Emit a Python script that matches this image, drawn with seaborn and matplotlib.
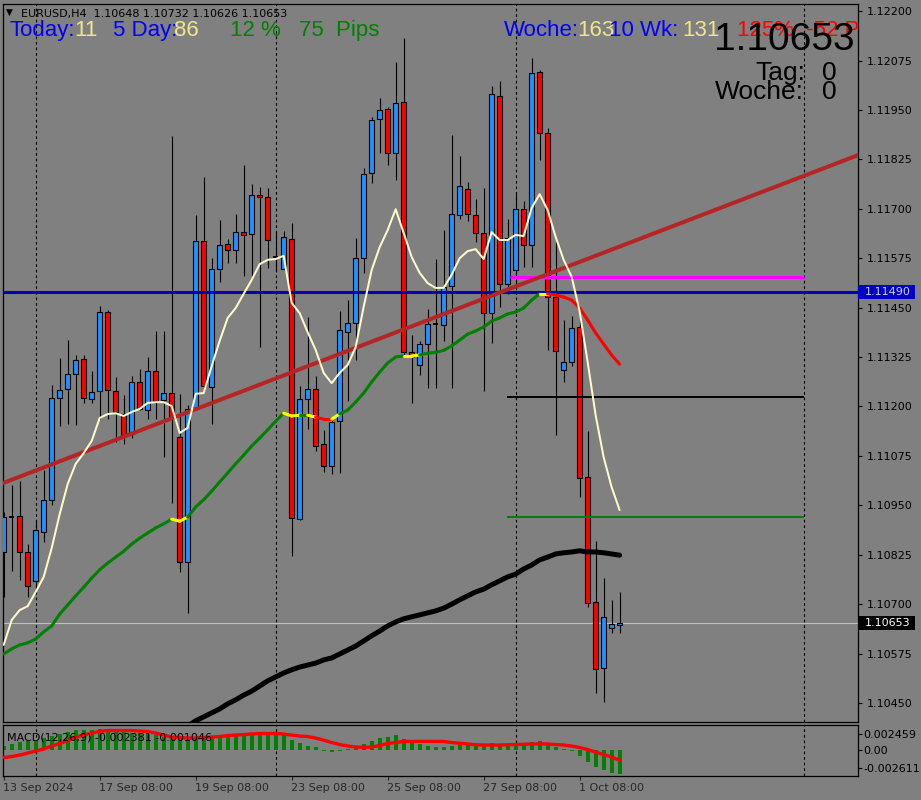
import numpy as np
import matplotlib
matplotlib.use("Agg")
import matplotlib.pyplot as plt
import matplotlib.transforms as mtransforms
from matplotlib.patches import Rectangle
from matplotlib import font_manager
import seaborn as sns

# ===== Data =====
date_labels = ["13 Sep 2024", "17 Sep 08:00", "19 Sep 08:00", "23 Sep 08:00",
               "25 Sep 08:00", "27 Sep 08:00", "1 Oct 08:00"]
date_label_bars = [0, 12, 24, 36, 48, 60, 72]
separator_bars = [4, 34, 64, 100]

opens = [1.10832, 1.10920, 1.10923, 1.10832, 1.10759, 1.10883, 1.10964, 1.11221, 1.11244, 1.11282,
         1.11320, 1.11219, 1.11239, 1.11439, 1.11239, 1.11181, 1.11130, 1.11262, 1.11191, 1.11290,
         1.11217, 1.11234, 1.11123, 1.10807, 1.11196, 1.11619, 1.11249, 1.11548, 1.11611, 1.11596,
         1.11641, 1.11636, 1.11735, 1.11730, 1.11578, 1.11548, 1.11624, 1.10915, 1.11219, 1.11244,
         1.11105, 1.11050, 1.11163, 1.11388, 1.11411, 1.11575, 1.11791, 1.11927, 1.11952, 1.11841,
         1.11970, 1.11338, 1.11305, 1.11358, 1.11409, 1.11406, 1.11505, 1.11684, 1.11750, 1.11684,
         1.11639, 1.11436, 1.11985, 1.11510, 1.11545, 1.11699, 1.11608, 1.12046, 1.11892, 1.11477,
         1.11292, 1.11313, 1.11401, 1.11022, 1.10706, 1.10539, 1.10640, 1.10648]
highs = [1.10933, 1.11001, 1.11012, 1.10852, 1.10910, 1.11039, 1.11254, 1.11323, 1.11368, 1.11330,
         1.11330, 1.11290, 1.11454, 1.11444, 1.11275, 1.11228, 1.11277, 1.11295, 1.11325, 1.11391,
         1.11391, 1.11884, 1.11232, 1.11204, 1.11684, 1.11780, 1.11575, 1.11672, 1.11624, 1.11687,
         1.11811, 1.11763, 1.11755, 1.11752, 1.11641, 1.11644, 1.11664, 1.11252, 1.11426, 1.11277,
         1.11141, 1.11171, 1.11441, 1.11469, 1.11626, 1.11803, 1.11932, 1.11980, 1.11957, 1.12071,
         1.12132, 1.11381, 1.11366, 1.11447, 1.11573, 1.11646, 1.11887, 1.11834, 1.11768, 1.11725,
         1.11752, 1.12011, 1.12023, 1.11674, 1.11737, 1.11720, 1.12081, 1.12051, 1.11904, 1.11616,
         1.11419, 1.11428, 1.11428, 1.11138, 1.10860, 1.10766, 1.10711, 1.10732]
lows = [1.10718, 1.10784, 1.10761, 1.10718, 1.10736, 1.10857, 1.10951, 1.11151, 1.11156, 1.11153,
        1.11209, 1.11209, 1.11168, 1.11168, 1.11110, 1.11105, 1.11120, 1.11191, 1.11168, 1.11168,
        1.11072, 1.10956, 1.10781, 1.10678, 1.11191, 1.11239, 1.11156, 1.11515, 1.11563, 1.11563,
        1.11530, 1.11530, 1.11350, 1.11550, 1.11545, 1.11548, 1.10822, 1.10913, 1.11143, 1.11087,
        1.11034, 1.11029, 1.11032, 1.11214, 1.11318, 1.11538, 1.11765, 1.11841, 1.11811, 1.11773,
        1.11328, 1.11209, 1.11280, 1.11247, 1.11247, 1.11366, 1.11247, 1.11674, 1.11669, 1.11616,
        1.11239, 1.11361, 1.11452, 1.11485, 1.11495, 1.11553, 1.11553, 1.11823, 1.11343, 1.11128,
        1.11262, 1.11302, 1.10971, 1.10693, 1.10475, 1.10453, 1.10627, 1.10626]
closes = [1.10920, 1.10920, 1.10832, 1.10746, 1.10888, 1.10964, 1.11221, 1.11242, 1.11282, 1.11318,
          1.11221, 1.11237, 1.11439, 1.11242, 1.11186, 1.11128, 1.11262, 1.11194, 1.11290, 1.11214,
          1.11234, 1.11173, 1.10807, 1.11194, 1.11619, 1.11252, 1.11548, 1.11608, 1.11596, 1.11641,
          1.11634, 1.11735, 1.11730, 1.11621, 1.11578, 1.11629, 1.10918, 1.11219, 1.11244, 1.11100,
          1.11050, 1.11161, 1.11393, 1.11411, 1.11575, 1.11788, 1.11924, 1.11950, 1.11841, 1.11967,
          1.11338, 1.11325, 1.11358, 1.11409, 1.11409, 1.11502, 1.11687, 1.11758, 1.11687, 1.11639,
          1.11436, 1.11990, 1.11510, 1.11626, 1.11699, 1.11608, 1.12043, 1.11892, 1.11477, 1.11340,
          1.11313, 1.11398, 1.11019, 1.10703, 1.10536, 1.10668, 1.10650, 1.10653]

# fast moving average (cream line)
fast_ma = [1.10597, 1.10660, 1.10685, 1.10695, 1.10731, 1.10769, 1.10842, 1.10928, 1.11004, 1.11055,
           1.11082, 1.11113, 1.11171, 1.11181, 1.11183, 1.11176, 1.11186, 1.11194, 1.11209, 1.11211,
           1.11211, 1.11201, 1.11133, 1.11146, 1.11232, 1.11234, 1.11302, 1.11366, 1.11424, 1.11449,
           1.11485, 1.11520, 1.11560, 1.11571, 1.11573, 1.11581, 1.11462, 1.11436, 1.11388, 1.11343,
           1.11285, 1.11259, 1.11285, 1.11305, 1.11350, 1.11452, 1.11545, 1.11603, 1.11646, 1.11699,
           1.11639, 1.11578, 1.11538, 1.11512, 1.11500, 1.11500, 1.11533, 1.11575, 1.11593, 1.11598,
           1.11573, 1.11641, 1.11621, 1.11621, 1.11634, 1.11631, 1.11702, 1.11737, 1.11697, 1.11629,
           1.11571, 1.11528, 1.11441, 1.11313, 1.11178, 1.11072, 1.10996, 1.10938]

# medium moving average (colour changes with slope)
mid_ma = [1.10574, 1.10587, 1.10597, 1.10602, 1.10612, 1.10630, 1.10645, 1.10675, 1.10698, 1.10721,
          1.10743, 1.10766, 1.10787, 1.10804, 1.10819, 1.10834, 1.10852, 1.10867, 1.10880, 1.10893,
          1.10903, 1.10915, 1.10910, 1.10920, 1.10946, 1.10964, 1.10986, 1.11009, 1.11032, 1.11055,
          1.11077, 1.11100, 1.11120, 1.11141, 1.11163, 1.11183, 1.11176, 1.11178, 1.11178, 1.11173,
          1.11168, 1.11168, 1.11181, 1.11191, 1.11211, 1.11234, 1.11262, 1.11287, 1.11310, 1.11325,
          1.11328, 1.11328, 1.11330, 1.11335, 1.11337, 1.11342, 1.11353, 1.11368, 1.11383, 1.11391,
          1.11401, 1.11416, 1.11424, 1.11434, 1.11439, 1.11449, 1.11469, 1.11485, 1.11485, 1.11482,
          1.11477, 1.11469, 1.11449, 1.11419, 1.11386, 1.11358, 1.11330, 1.11307]
# g = rising, y = flat, r = falling (one code per bar, colours the segment to the next bar)
mid_ma_state = ("g" * 21 + "yy" + "g" * 12 + "yy" + "g" + "y" + "rr" + "y"
                + "g" * 8 + "yy" + "g" * 15 + "y" + "r" * 10)

# slow moving average (thick black), first bars lie below the visible range
slow_ma = [np.nan] * 23 + [
    1.10392, 1.10405, 1.10415, 1.10425, 1.10435, 1.10448, 1.10458, 1.10470, 1.10480, 1.10493,
    1.10506, 1.10516, 1.10526, 1.10534, 1.10541, 1.10546, 1.10551, 1.10559, 1.10564, 1.10574,
    1.10584, 1.10594, 1.10607, 1.10620, 1.10632, 1.10645, 1.10655, 1.10663, 1.10668, 1.10673,
    1.10678, 1.10683, 1.10690, 1.10700, 1.10711, 1.10721, 1.10731, 1.10738, 1.10749, 1.10759,
    1.10769, 1.10776, 1.10789, 1.10799, 1.10812, 1.10819, 1.10827, 1.10830, 1.10832, 1.10835,
    1.10832, 1.10832, 1.10830, 1.10827, 1.10824]

macd_main = [0.00037, 0.00057, 0.00072, 0.00086, 0.00101, 0.00121, 0.00141, 0.00156, 0.00181, 0.00196,
             0.00201, 0.00196, 0.00206, 0.00196, 0.00186, 0.00176, 0.00166, 0.00166, 0.00156, 0.00151,
             0.00131, 0.00116, 0.00106, 0.00113, 0.00123, 0.00129, 0.00129, 0.00116, 0.00123, 0.00149,
             0.00156, 0.00156, 0.00163, 0.00173, 0.00173, 0.00156, 0.00096, 0.00064, 0.00040, 0.00030,
             -0.00010, -0.00020, -0.00010, 0.00007, 0.00024, 0.00057, 0.00083, 0.00113, 0.00123, 0.00146,
             0.00106, 0.00074, 0.00057, 0.00037, 0.00027, 0.00027, 0.00040, 0.00050, 0.00050, 0.00044,
             0.00034, 0.00064, 0.00044, 0.00044, 0.00050, 0.00057, 0.00074, 0.00083, 0.00050, 0.00030,
             0.00004, -0.00013, -0.00063, -0.00119, -0.00169, -0.00199, -0.00229, -0.002381]
macd_signal = [-0.00078, -0.00068, -0.00053, -0.00033, -0.00013, 0.00007, 0.00037, 0.00062, 0.00091, 0.00126,
               0.00146, 0.00166, 0.00181, 0.00191, 0.00191, 0.00191, 0.00191, 0.00186, 0.00181, 0.00166,
               0.00146, 0.00126, 0.00121, 0.00116, 0.00116, 0.00121, 0.00126, 0.00131, 0.00141, 0.00146,
               0.00151, 0.00156, 0.00161, 0.00161, 0.00161, 0.00156, 0.00146, 0.00136, 0.00131, 0.00116,
               0.00096, 0.00072, 0.00052, 0.00037, 0.00027, 0.00024, 0.00027, 0.00042, 0.00062, 0.00072,
               0.00082, 0.00083, 0.00083, 0.00083, 0.00083, 0.00082, 0.00072, 0.00064, 0.00057, 0.00050,
               0.00047, 0.00047, 0.00047, 0.00050, 0.00052, 0.00054, 0.00057, 0.00057, 0.00057, 0.00052,
               0.00047, 0.00037, 0.00022, 0.00002, -0.00023, -0.00048, -0.00073, -0.001046]

price_ticks = [1.12200, 1.12075, 1.11950, 1.11825, 1.11700, 1.11575, 1.11450, 1.11325,
               1.11200, 1.11075, 1.10950, 1.10825, 1.10700, 1.10575, 1.10450]
macd_range = [-0.002611, 0.002459]

blue_level = 1.11490
last_price = 1.10653
magenta_level = 1.11527
black_level = 1.11224
green_level = 1.10920
level_bars = [63, 100]
trend_bars = [0, 100]
trend_prices = [1.11007, 1.11783]

# ===== Style =====
sns.set_style("ticks", {"axes.facecolor": "#808080", "figure.facecolor": "#808080",
                        "axes.edgecolor": "black"})
plt.rcParams['font.family'] = ['DejaVu Sans']

names = set(font_manager.get_font_names())
narrow = 'Liberation Sans Narrow' in names
big_family = 'Liberation Sans Narrow' if narrow else 'Liberation Sans'
big_size = 33.5 if narrow else 28
mid_size = 23 if narrow else 19

fig = plt.figure(figsize=(9.21, 8.0), dpi=100)
ax = fig.add_axes([2.5 / 921, 78 / 800, 855.5 / 921, 718 / 800])
ax2 = fig.add_axes([2.5 / 921, 24 / 800, 855.5 / 921, 51 / 800])
px = mtransforms.Affine2D().scale(1, -1).translate(0, 800)

x = np.arange(len(opens))
o, h, l, c = map(np.array, (opens, highs, lows, closes))

# separators
for a in (ax, ax2):
    for b in separator_bars:
        a.axvline(b, color='black', linestyle=(0, (2.5, 2.5)), linewidth=0.8, zorder=1)

# candles
ax.vlines(x, l, h, color='black', linewidth=0.8, zorder=2)
up, down, flat = c > o, c < o, c == o
ax.bar(x[up], (c - o)[up], bottom=o[up], width=0.62, color='#1E90FF',
       edgecolor='black', linewidth=0.8, zorder=3)
ax.bar(x[down], (c - o)[down], bottom=o[down], width=0.62, color='#FF0000',
       edgecolor='black', linewidth=0.8, zorder=3)
ax.hlines(o[flat], x[flat] - 0.32, x[flat] + 0.32, color='black', linewidth=1.3, zorder=3)

# horizontal levels
ax.axhline(blue_level, color='#0000B0', linewidth=2.2, zorder=4)
ax.axhline(last_price, color='#C0C0C0', linewidth=0.8, zorder=1.5)
ax.hlines(magenta_level, level_bars[0] + 0.3, level_bars[1], color='#FF00FF', linewidth=2.2, zorder=4)
ax.hlines(black_level, level_bars[0] - 0.1, level_bars[1], color='black', linewidth=1.4, zorder=4)
ax.hlines(green_level, level_bars[0] - 0.1, level_bars[1], color='#008000', linewidth=1.4, zorder=4)

# trend line extended across the chart
slope = (trend_prices[1] - trend_prices[0]) / (trend_bars[1] - trend_bars[0])
tx = np.array([-1, 108])
ax.plot(tx, trend_prices[0] + slope * (tx - trend_bars[0]), color='#B52525', linewidth=2.9, zorder=4)

# moving averages
sns.lineplot(x=x, y=np.array(slow_ma), ax=ax, color='black', linewidth=3.6, zorder=4)
ma_colors = {'g': '#008000', 'y': '#FFFF00', 'r': '#FF0000'}
mid = np.array(mid_ma)
for i in range(len(mid) - 1):
    ax.plot(x[i:i + 2], mid[i:i + 2], color=ma_colors[mid_ma_state[i]], linewidth=2.2,
            solid_capstyle='round', zorder=5)
sns.lineplot(x=x, y=np.array(fast_ma), ax=ax, color='#FFFACD', linewidth=1.45, zorder=6)

ax.set_xlim(-0.15, 106.8)
ax.set_ylim(1.10402, 1.12218)
ax.yaxis.tick_right()
ax.set_yticks(price_ticks)
ax.set_yticklabels([f"{v:.5f}" for v in price_ticks])
ax.tick_params(axis='y', right=True, left=False, length=3, width=0.8, pad=3,
               labelsize=8, colors='black')
ax.set_xticks([])
ax.set_xlabel("")
ax.set_ylabel("")
for s in ax.spines.values():
    s.set_visible(True)
    s.set_color('black')
    s.set_linewidth(0.9)

# right-axis price boxes
def price_box(price, fc, tc, label):
    yp = 800 - ax.transData.transform((0, price))[1]
    fig.add_artist(Rectangle((858, yp - 7), 57, 14, transform=px, facecolor=fc,
                             edgecolor='none', zorder=20))
    fig.text(865, yp, label, transform=px, color=tc, fontsize=8, va='center', ha='left', zorder=21)

price_box(blue_level, '#0000C8', '#D0D0FF', "1.11490")
price_box(last_price, 'black', 'white', "1.10653")

# MACD panel
ax2.bar(x, macd_main, width=0.5, color='#008000', edgecolor='none', linewidth=0, zorder=2)
sns.lineplot(x=x, y=np.array(macd_signal), ax=ax2, color='#FF0000', linewidth=2.4, zorder=3)
ax2.set_xlim(-0.15, 106.8)
ax2.set_ylim(macd_range[0], macd_range[1])
ax2.yaxis.tick_right()
ax2.set_yticks([0.00156, 0.0, -0.00182])
ax2.set_yticklabels(["0.002459", "0.00", "-0.002611"])
ax2.tick_params(axis='y', right=True, left=False, length=3, width=0.8, pad=1,
                labelsize=8, colors='black')
ax2.set_xticks(date_label_bars)
ax2.set_xticklabels([])
ax2.tick_params(axis='x', bottom=True, length=3, width=0.8)
ax2.set_xlabel("")
ax2.set_ylabel("")
for s in ax2.spines.values():
    s.set_visible(True)
    s.set_color('black')
    s.set_linewidth(0.9)

date_tr = mtransforms.blended_transform_factory(ax2.transData, px)
for b, lab in zip(date_label_bars, date_labels):
    ax2.text(b - 0.1, 791, lab, transform=date_tr, fontsize=8, ha='left', va='baseline',
             clip_on=False)

ax2.text(7, 741, "MACD(12,26,9) -0.002381 -0.001046", transform=px, fontsize=8,
         color='black', va='baseline', zorder=10)

# header texts
def ptext(xp, yp, s, **kw):
    kw.setdefault('va', 'baseline')
    ax.text(xp, yp, s, transform=px, zorder=10, **kw)

ptext(6, 15, "\u25bc", fontsize=6.5, color='black')
ptext(21, 17, "EURUSD,H4  1.10648 1.10732 1.10626 1.10653", fontsize=8, color='black')

big = dict(fontsize=16, family='Liberation Sans')
ptext(10, 36, "Today:", color='#0000FF', **big)
ptext(74, 36, "11", color='#F0E68C', **big)
ptext(113, 36, "5 Day:", color='#0000FF', **big)
ptext(174, 36, "86", color='#F0E68C', **big)
ptext(230, 36, "12 %", color='#008000', **big)
ptext(299, 36, "75  Pips", color='#008000', **big)
ptext(504, 36, "Woche:", color='#0000FF', **big)
ptext(577, 36, "163", color='#F0E68C', **big)
ptext(609, 36, "10 Wk:", color='#0000FF', **big)
ptext(682, 36, "131", color='#F0E68C', **big)
ax.text(737, 36, "125%  -52 Pips", transform=px, color='#FF0000', va='baseline',
        clip_on=True, zorder=9, **big)

ptext(714, 50, "1.10653", color='black', fontsize=big_size, family=big_family)
ptext(755, 80, "Tag:", color='black', fontsize=mid_size, family=big_family)
ptext(822, 80, "0", color='black', fontsize=mid_size, family=big_family)
ptext(715, 99, "Woche:", color='black', fontsize=mid_size, family=big_family)
ptext(822, 99, "0", color='black', fontsize=mid_size, family=big_family)

plt.savefig("out.png", dpi=100, facecolor=fig.get_facecolor())
